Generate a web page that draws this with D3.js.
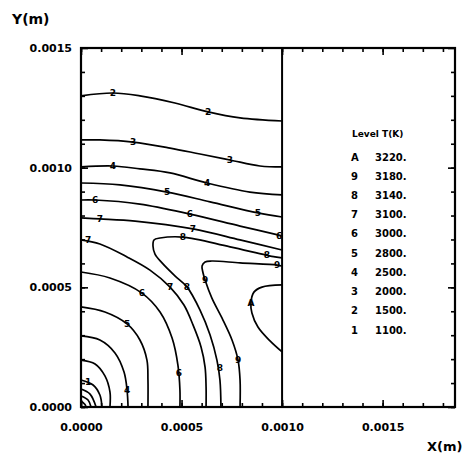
<!DOCTYPE html>
<html>
<head>
<meta charset="utf-8">
<script src="https://cdn.jsdelivr.net/npm/d3@7"></script>
<style>
body { margin: 0; background: #fff; }
svg text { font-family: "DejaVu Sans", sans-serif; font-weight: bold; fill: #000; }
</style>
</head>
<body>
<div class="chart"></div>
<script>
// Axis tick labels (m)
var xTicks = [0, 0.0005, 0.0010, 0.0015];
var yTicks = [0, 0.0005, 0.0010, 0.0015];

// Legend
var levelKeys = ["A", "9", "8", "7", "6", "5", "4", "3", "2", "1"];
var levelTemps = ["3220.", "3180.", "3140.", "3100.", "3000.", "2800.", "2500.", "2000.", "1500.", "1100."];

// Contour lines, points as [x, y] in mm
var lineTop1 = [[0, 1.300], [0.159, 1.312], [0.293, 1.300], [0.467, 1.270], [0.632, 1.233], [0.791, 1.208], [1.0, 1.195]];
var lineTop2 = [[0, 1.116], [0.094, 1.116], [0.259, 1.107], [0.443, 1.082], [0.592, 1.057], [0.741, 1.032], [0.890, 1.007], [1.0, 1.003]];
var lineTop3 = [[0, 1.003], [0.159, 1.007], [0.293, 0.995], [0.443, 0.978], [0.627, 0.936], [0.840, 0.898], [1.0, 0.886]];
var lineTop4 = [[0, 0.936], [0.194, 0.928], [0.428, 0.898], [0.642, 0.857], [0.880, 0.811], [1.0, 0.794]];
var lineTop5 = [[0, 0.865], [0.070, 0.865], [0.293, 0.848], [0.542, 0.806], [0.791, 0.756], [1.0, 0.715]];
var lineTop6 = [[0, 0.790], [0.094, 0.786], [0.269, 0.777], [0.557, 0.744], [0.791, 0.698], [1.0, 0.656]];
var loop8 = [[1.0, 0.623], [0.965, 0.627], [0.741, 0.669], [0.507, 0.710], [0.393, 0.706], [0.363, 0.698], [0.358, 0.673],
             [0.368, 0.639], [0.403, 0.602], [0.467, 0.548], [0.527, 0.502], [0.592, 0.405], [0.642, 0.301],
             [0.676, 0.196], [0.691, 0.113], [0.696, 0]];
var loop9 = [[1.0, 0.589], [0.975, 0.593], [0.791, 0.602], [0.651, 0.610], [0.617, 0.606], [0.602, 0.589], [0.607, 0.560],
             [0.617, 0.531], [0.651, 0.455], [0.701, 0.372], [0.751, 0.280], [0.781, 0.196], [0.791, 0.113], [0.791, 0]];
var loopA = [[1.0, 0.510], [0.900, 0.501], [0.860, 0.480], [0.845, 0.435], [0.850, 0.393], [0.880, 0.334], [0.940, 0.276], [1.0, 0.230]];
var arc7 = [[0, 0.698], [0.094, 0.681], [0.229, 0.627], [0.343, 0.572], [0.443, 0.501], [0.512, 0.426], [0.557, 0.343],
            [0.597, 0.251], [0.617, 0.167], [0.622, 0.084], [0.622, 0]];
var arc6 = [[0, 0.564], [0.144, 0.539], [0.303, 0.476], [0.393, 0.397], [0.453, 0.288], [0.482, 0.175], [0.492, 0.071], [0.492, 0]];
var arc5 = [[0, 0.418], [0.119, 0.397], [0.229, 0.347], [0.293, 0.280], [0.328, 0.196], [0.333, 0.113], [0.333, 0]];
var arc4 = [[0, 0.297], [0.094, 0.280], [0.169, 0.226], [0.214, 0.146], [0.229, 0.071], [0.234, 0]];
var arc3 = [[0, 0.196], [0.070, 0.180], [0.119, 0.130], [0.144, 0.063], [0.144, 0]];
var arc2 = [[0, 0.113], [0.060, 0.092], [0.094, 0.050], [0.104, 0]];
var arc1 = [[0, 0.075], [0.045, 0.054], [0.075, 0]];
var arc1b = [[0, 0.046], [0.035, 0.029], [0.050, 0]];
var arc1c = [[0, 0.025], [0.020, 0.010], [0.025, 0]];

var contours = [lineTop1, lineTop2, lineTop3, lineTop4, lineTop5, lineTop6, loop8, loop9, loopA,
                arc7, arc6, arc5, arc4, arc3, arc2, arc1, arc1b, arc1c];

// Level labels sitting on the lines, [x mm, y mm, key]
var contourLabels = [
  [0.159, 1.312, "2"], [0.632, 1.233, "2"],
  [0.259, 1.107, "3"], [0.741, 1.032, "3"],
  [0.159, 1.007, "4"], [0.627, 0.936, "4"],
  [0.428, 0.898, "5"], [0.880, 0.811, "5"],
  [0.070, 0.865, "6"], [0.542, 0.806, "6"], [0.985, 0.715, "6"],
  [0.094, 0.786, "7"], [0.557, 0.744, "7"],
  [0.507, 0.710, "8"], [0.925, 0.635, "8"], [0.527, 0.502, "8"], [0.691, 0.163, "8"],
  [0.975, 0.593, "9"], [0.617, 0.531, "9"], [0.781, 0.196, "9"],
  [0.845, 0.435, "A"],
  [0.035, 0.698, "7"], [0.443, 0.501, "7"],
  [0.303, 0.476, "6"], [0.487, 0.142, "6"],
  [0.229, 0.347, "5"], [0.229, 0.071, "4"], [0.035, 0.105, "1"]
];

var mm = 1e-3;

var svg = d3.select(".chart")
  .append("svg")
  .attr("width", 473)
  .attr("height", 457);

var x = d3.scaleLinear().domain([0, 0.00186]).range([81, 455]);
var y = d3.scaleLinear().domain([0, 0.0015]).range([407, 48]);

var minorX = d3.range(0, 0.00186, 0.0001);
var minorY = d3.range(0, 0.0015, 0.0001);

// minor ticks, pointing inward on all four sides
svg.append("g").attr("transform", "translate(0,407)")
  .call(d3.axisBottom(x).tickValues(minorX).tickSize(-4).tickFormat(""));
svg.append("g").attr("transform", "translate(0,48)")
  .call(d3.axisTop(x).tickValues(minorX).tickSize(-4).tickFormat(""));
svg.append("g").attr("transform", "translate(81,0)")
  .call(d3.axisLeft(y).tickValues(minorY).tickSize(-4).tickFormat(""));
svg.append("g").attr("transform", "translate(455,0)")
  .call(d3.axisRight(y).tickValues(minorY).tickSize(-4).tickFormat(""));

// major ticks with labels
svg.append("g").attr("transform", "translate(0,407)")
  .call(d3.axisBottom(x).tickValues(xTicks).tickSize(-7).tickPadding(16).tickFormat(d3.format(".4f")));
svg.append("g").attr("transform", "translate(81,0)")
  .call(d3.axisLeft(y).tickValues(yTicks).tickSize(-7).tickPadding(9).tickFormat(d3.format(".4f")));
svg.append("g").attr("transform", "translate(0,48)")
  .call(d3.axisTop(x).tickValues(xTicks).tickSize(-7).tickFormat(""));
svg.append("g").attr("transform", "translate(455,0)")
  .call(d3.axisRight(y).tickValues(yTicks).tickSize(-7).tickFormat(""));

svg.selectAll(".domain").remove();
svg.selectAll(".tick line").attr("stroke", "#000").attr("stroke-width", 1.6);
svg.selectAll(".tick text").style("font-size", "11px");

// frame and the x = 0.001 boundary
svg.append("rect")
  .attr("x", x(0)).attr("y", y(0.0015))
  .attr("width", x(0.00186) - x(0)).attr("height", y(0) - y(0.0015))
  .attr("fill", "none").attr("stroke", "#000").attr("stroke-width", 2.2);
svg.append("line")
  .attr("x1", x(0.001)).attr("x2", x(0.001))
  .attr("y1", y(0.0015)).attr("y2", y(0))
  .attr("stroke", "#000").attr("stroke-width", 2);

// contour lines
var contourLine = d3.line()
  .x(function(d) { return x(d[0] * mm); })
  .y(function(d) { return y(d[1] * mm); })
  .curve(d3.curveCatmullRom.alpha(0.5));

svg.selectAll(".contour")
  .data(contours)
  .enter().append("path")
  .attr("class", "contour")
  .attr("d", contourLine)
  .attr("fill", "none")
  .attr("stroke", "#000")
  .attr("stroke-width", 1.7);

svg.selectAll(".clabel")
  .data(contourLabels)
  .enter().append("text")
  .attr("class", "clabel")
  .attr("x", function(d) { return x(d[0] * mm); })
  .attr("y", function(d) { return y(d[1] * mm); })
  .attr("dy", "0.35em")
  .attr("text-anchor", "middle")
  .style("font-size", "9px")
  .text(function(d) { return d[2]; });

// axis titles
svg.append("text").attr("x", 12).attr("y", 24).style("font-size", "14px").text("Y(m)");
svg.append("text").attr("x", 427).attr("y", 451).style("font-size", "13px").text("X(m)");

// legend
svg.append("text").attr("x", 352).attr("y", 137).style("font-size", "9px").text("Level T(K)");
var rowY = d3.scaleLinear().domain([0, levelKeys.length - 1]).range([157, 330]);
svg.selectAll(".lkey")
  .data(levelKeys)
  .enter().append("text")
  .attr("x", 351)
  .attr("y", function(d, i) { return rowY(i); })
  .attr("dy", "0.35em")
  .style("font-size", "10px")
  .text(function(d) { return d; });
svg.selectAll(".ltemp")
  .data(levelTemps)
  .enter().append("text")
  .attr("x", 375)
  .attr("y", function(d, i) { return rowY(i); })
  .attr("dy", "0.35em")
  .style("font-size", "10px")
  .text(function(d) { return d; });
</script>
</body>
</html>
